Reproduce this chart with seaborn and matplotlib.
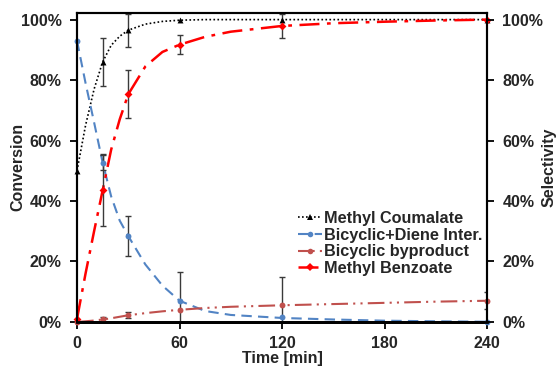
import matplotlib
matplotlib.use('Agg')
import matplotlib.pyplot as plt
from matplotlib.lines import Line2D
from matplotlib.ticker import FuncFormatter
import seaborn as sns

time_min = [0, 15, 30, 60, 120, 240]
coumalate = [50, 86, 96.5, 100, 100, 100]
diene = [93, 52.7, 28.4, 7, 1.5, 0]
byproduct = [0, 0.8, 2.3, 4, 5.5, 7]
benzoate = [1, 43.5, 75.3, 91.7, 98, 100]

coumalate_err = [0, 7.9, 5.5, 0, 0, 0]
diene_err = [0, 2.6, 6.7, 9.5, 13.4, 0]
byproduct_err = [0, 0.8, 1.0, 0, 0, 2.8]
benzoate_err = [0, 11.9, 7.9, 3.2, 4, 0]

# model curves at these times
fit_time = [0, 5, 10, 15, 20, 25, 30, 40, 50, 60, 75, 90, 120, 150, 180, 210, 240]
coumalate_fit = [50, 65, 77, 86, 91.5, 94.5, 96.5, 98.5, 99.4, 99.8, 100, 100, 100, 100, 100, 100, 100]
diene_fit = [93, 79, 66, 52.7, 41.5, 33.5, 28.4, 19, 12, 7, 3.6, 2.3, 1.3, 0.8, 0.4, 0.2, 0.05]
byproduct_fit = [0, 0.2, 0.45, 0.8, 1.2, 1.7, 2.2, 2.9, 3.5, 4.0, 4.6, 5.0, 5.5, 5.9, 6.3, 6.7, 7.0]
benzoate_fit = [1, 16, 30, 43.5, 57, 67, 75.3, 84.5, 89.3, 91.7, 94.3, 96, 97.9, 98.8, 99.3, 99.7, 100]

labels = ['Methyl Coumalate', 'Bicyclic+Diene Inter.', 'Bicyclic byproduct', 'Methyl Benzoate']
colors = ['black', '#5284C4', '#C0504D', '#FF0000']
markers = ['^', 'o', 'o', 'D']
styles = [(0, (1, 1.4)), (0, (5, 3)), (0, (8, 2.5, 1, 2.5, 1, 2.5)), (0, (8, 3, 1.5, 3))]
widths = [1.2, 1.5, 1.5, 1.8]

sns.set_style('ticks')
plt.rcParams['font.family'] = ['Liberation Sans', 'DejaVu Sans']
plt.rcParams['font.weight'] = 'bold'

fig = plt.figure(figsize=(5.56, 3.70), dpi=100)
ax = fig.add_axes([0.1385, 0.13, 0.7375, 0.835])

series = [
    (coumalate, coumalate_err, coumalate_fit),
    (diene, diene_err, diene_fit),
    (byproduct, byproduct_err, byproduct_fit),
    (benzoate, benzoate_err, benzoate_fit),
]

handles = []
for i, (vals, errs, fit) in enumerate(series):
    sns.lineplot(x=fit_time, y=fit, ax=ax, color=colors[i], linestyle=styles[i],
                 linewidth=widths[i], zorder=2)
    # error bars only where there is a spread
    ex = [t for t, e in zip(time_min, errs) if e > 0]
    ey = [v for v, e in zip(vals, errs) if e > 0]
    ee = [e for e in errs if e > 0]
    ax.errorbar(ex, ey, yerr=ee, fmt='none', ecolor='#3a3a3a', elinewidth=1.0,
                capsize=2.5, capthick=1.0, zorder=3)
    sns.scatterplot(x=time_min, y=vals, ax=ax, marker=markers[i], color=colors[i],
                    s=18 if markers[i] != 'D' else 16, linewidth=0, zorder=4, clip_on=False)
    handles.append(Line2D([], [], color=colors[i], linestyle=styles[i], linewidth=widths[i],
                          marker=markers[i], markersize=4, markeredgewidth=0))

pct = FuncFormatter(lambda v, p: f'{v:.0f}%')
ax.set_xlim(0, 240)
ax.set_ylim(0, 102.2)
ax.set_xticks([0, 60, 120, 180, 240])
ax.set_yticks([0, 20, 40, 60, 80, 100])
ax.yaxis.set_major_formatter(pct)
ax.set_xlabel('Time [min]', fontsize=11.5, fontweight='bold', labelpad=0)
ax.set_ylabel('Conversion', fontsize=11.5, fontweight='bold')
ax.yaxis.set_label_coords(-0.127, 0.5)

ax2 = ax.twinx()
ax2.set_ylim(0, 102.2)
ax2.set_yticks([0, 20, 40, 60, 80, 100])
ax2.yaxis.set_major_formatter(pct)
ax2.set_ylabel('Selectivity', fontsize=11.5, fontweight='bold')
ax2.yaxis.set_label_coords(1.134, 0.5)

for a in (ax, ax2):
    a.tick_params(direction='out', length=5, width=1.3, labelsize=11.5, pad=6, color='black')
    for s in a.spines.values():
        s.set_visible(True)
        s.set_linewidth(1.5)
        s.set_color('black')
    a.spines['bottom'].set_linewidth(2)
ax.tick_params(axis='x', pad=5)

ax.legend(handles, labels, loc='upper left', bbox_to_anchor=(0.519, 0.385), frameon=False,
          borderpad=0, labelspacing=0.1, handlelength=1.5, handletextpad=0.1,
          prop={'weight': 'bold', 'size': 11.7})

fig.savefig('out.png', dpi=100)
